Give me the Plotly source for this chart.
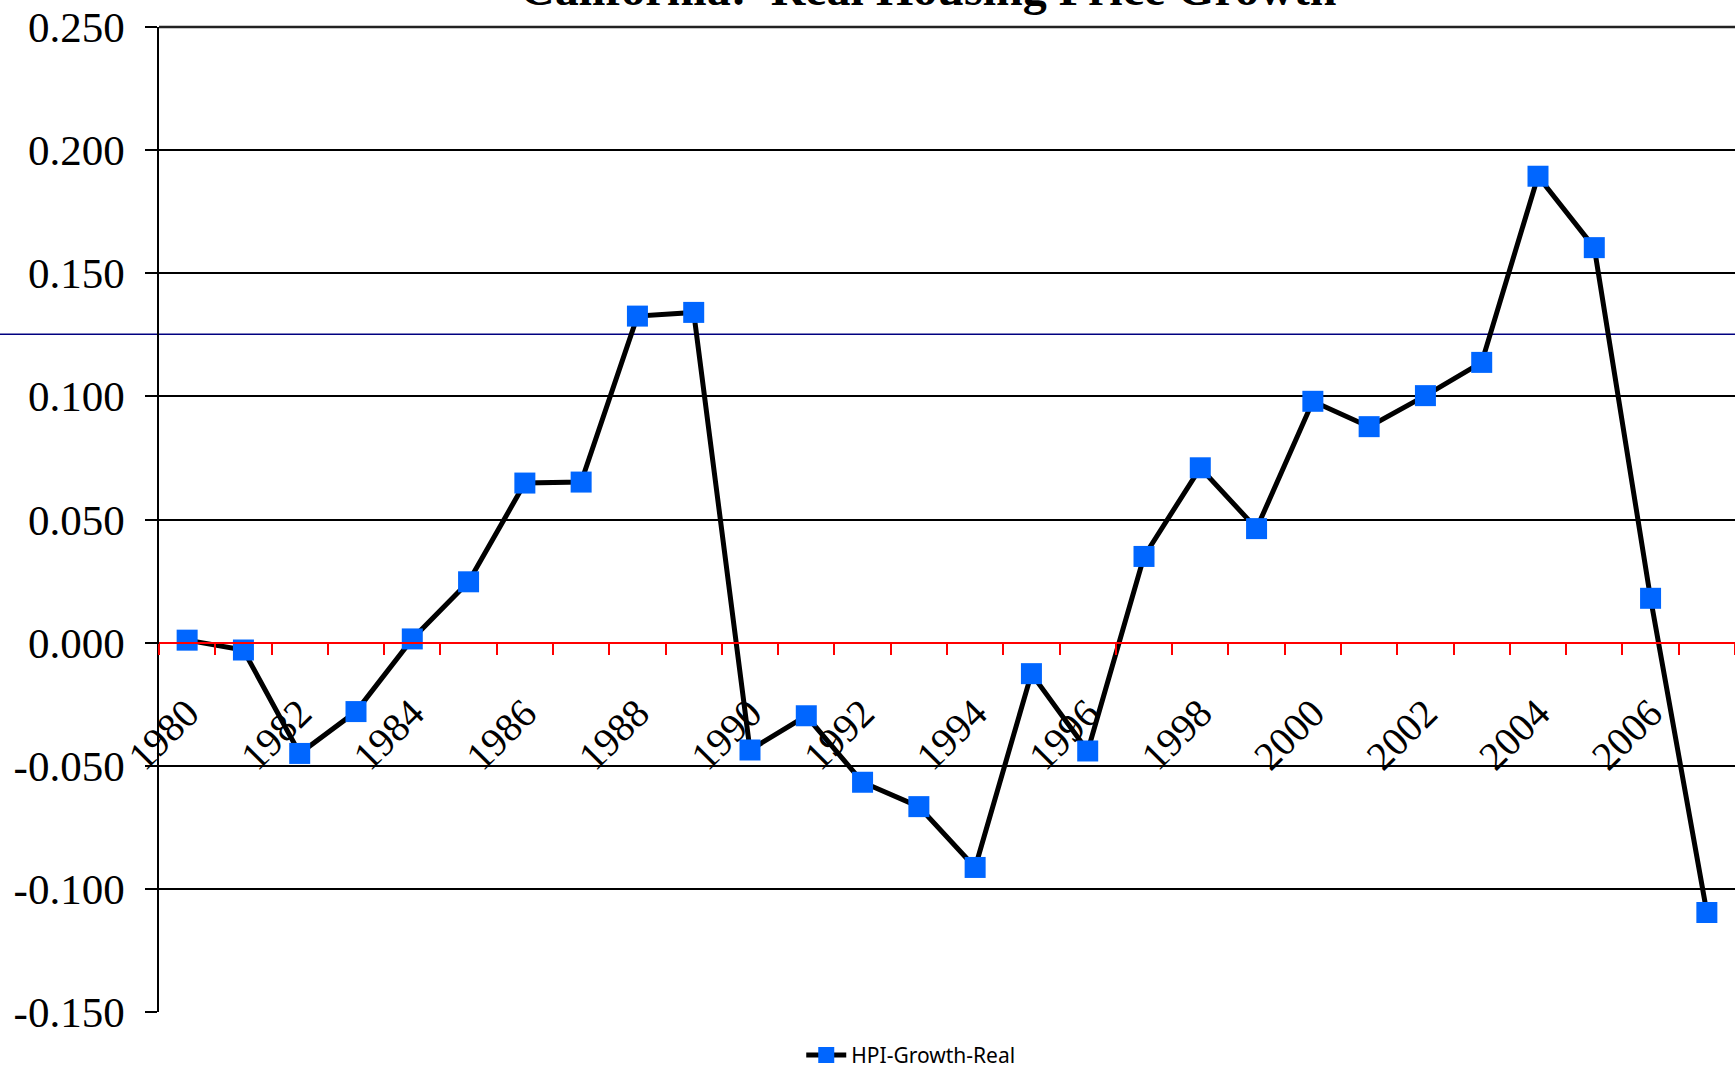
import plotly.graph_objects as go

# Annual real house price growth, California
years = list(range(1980, 2008))
hpi_growth_real = [
    0.001, -0.003, -0.045, -0.028, 0.0015, 0.0247, 0.0648, 0.0652,
    0.1326, 0.1341, -0.0436, -0.0297, -0.0567, -0.0666, -0.0913, -0.0126,
    -0.044, 0.035, 0.071, 0.0463, 0.098, 0.0877, 0.1003, 0.1138,
    0.1894, 0.1604, 0.018, -0.1096,
]

y_tick_vals = [-0.15, -0.10, -0.05, 0.0, 0.05, 0.10, 0.15, 0.20, 0.25]
y_tick_text = ["-0.150", "-0.100", "-0.050", "0.000", "0.050",
               "0.100", "0.150", "0.200", "0.250"]
x_label_years = list(range(1980, 2008, 2))
reference_level = 0.1252

SERIF = "Liberation Serif, Times New Roman, serif"
Y_MIN, Y_MAX = -0.15, 0.25

fig = go.Figure()
fig.add_trace(go.Scatter(
    x=years, y=hpi_growth_real, name="HPI-Growth-Real",
    mode="lines+markers",
    line=dict(color="black", width=5),
    marker=dict(symbol="square", size=21, color="#0066ff",
                line=dict(width=0)),
))

# horizontal reference line across the full width of the page
ref_pos = (reference_level - Y_MIN) / (Y_MAX - Y_MIN)
fig.add_shape(type="line", xref="paper", yref="paper",
              x0=-0.11, x1=1.01, y0=ref_pos, y1=ref_pos,
              line=dict(color="#000080", width=1.5), layer="below")
# heavier top border of the plot area
fig.add_shape(type="line", xref="paper", yref="paper",
              x0=0, x1=1, y0=1, y1=1,
              line=dict(color="#222222", width=2.5))

fig.add_annotation(
    text="<b>California:\u00a0 Real Housing Price Growth</b>",
    xref="paper", yref="paper", x=0.488, y=1.010,
    xanchor="center", yanchor="bottom", showarrow=False,
    font=dict(family=SERIF, size=48, color="black"),
)

fig.update_layout(
    width=1735, height=1071,
    margin=dict(l=159, r=0, t=27, b=59, autoexpand=False),
    paper_bgcolor="white", plot_bgcolor="white",
    showlegend=True,
    legend=dict(orientation="h", x=0.477, y=-0.044,
                xanchor="center", yanchor="middle",
                font=dict(family="Noto Sans, sans-serif", size=21,
                          color="black"),
                itemwidth=40),
    xaxis=dict(
        range=[1979.5, 2007.5], anchor="free",
        position=(0 - Y_MIN) / (Y_MAX - Y_MIN),
        showgrid=False, zeroline=False, automargin=False,
        showline=True, linecolor="red", linewidth=2,
        tickmode="array", tickvals=x_label_years,
        ticktext=[str(y) for y in x_label_years],
        ticks="", tickangle=-45, ticklabelstandoff=30,
        tickfont=dict(family=SERIF, size=40, color="black"),
        minor=dict(tickmode="array",
                   tickvals=[y + 0.5 for y in range(1979, 2008)],
                   ticks="outside", ticklen=11, tickwidth=1.5,
                   tickcolor="red", showgrid=False),
    ),
    yaxis=dict(
        range=[Y_MIN, Y_MAX], automargin=False,
        tickmode="array", tickvals=y_tick_vals, ticktext=y_tick_text,
        showgrid=True, gridcolor="black", gridwidth=1.5,
        zeroline=False,
        showline=True, linecolor="black", linewidth=1.5,
        ticks="outside", ticklen=12, tickwidth=1.5, tickcolor="black",
        ticklabelstandoff=12,
        tickfont=dict(family=SERIF, size=43, color="black"),
    ),
)

fig.write_html("out.html")
